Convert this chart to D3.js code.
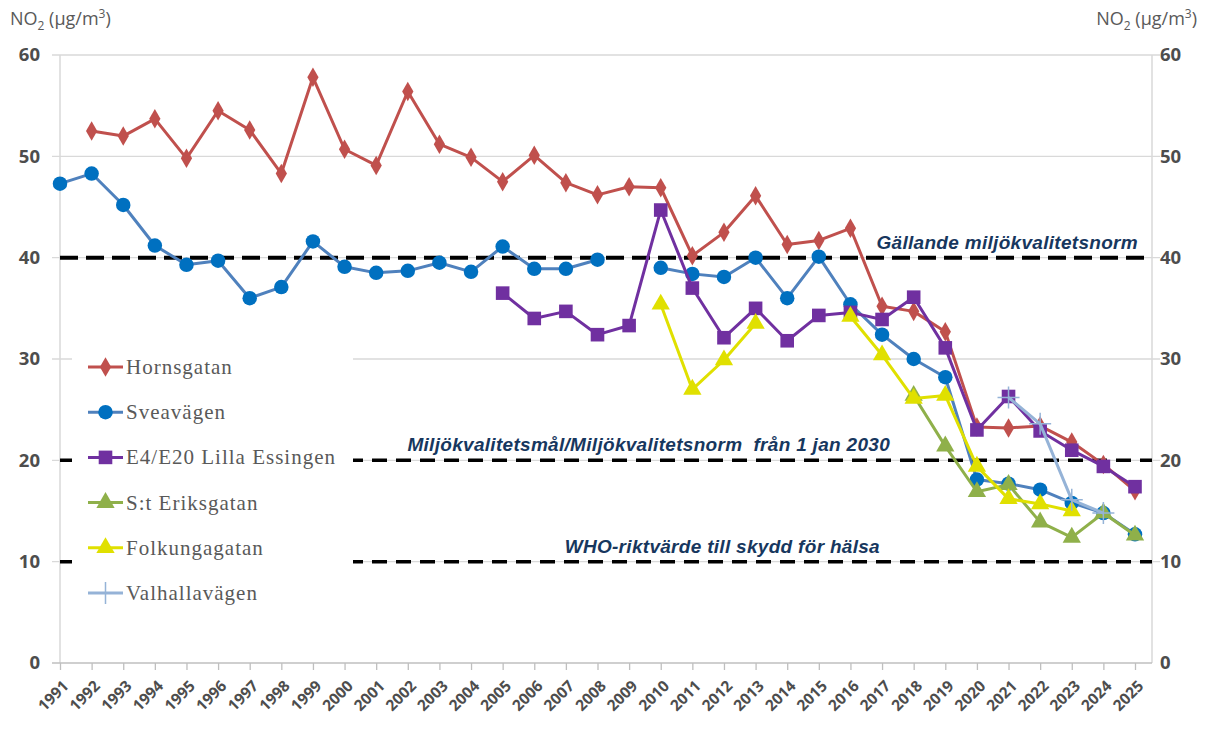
<!DOCTYPE html>
<html>
<head>
<meta charset="utf-8">
<script src="https://cdn.jsdelivr.net/npm/d3@7"></script>
<style>
  body { margin: 0; background: #fff; }
  svg { display: block; }
</style>
</head>
<body>
<svg id="chart" width="1206" height="729"></svg>
<script>
// years on the x axis
var years = d3.range(1991, 2026);

// NO2 annual means (µg/m3), null = no measurement
var hornsgatan = [null, 52.5, 52.0, 53.7, 49.8, 54.5, 52.6, 48.3, 57.8, 50.7, 49.1, 56.4, 51.2, 49.9, 47.5, 50.1, 47.4, 46.2, 47.0, 46.9, 40.2, 42.5, 46.1, 41.3, 41.7, 42.9, 35.2, 34.7, 32.7, 23.3, 23.2, 23.4, 21.8, 19.6, 17.0];
var sveavagen = [47.3, 48.3, 45.2, 41.2, 39.3, 39.7, 36.0, 37.1, 41.6, 39.1, 38.5, 38.7, 39.5, 38.6, 41.1, 38.9, 38.9, 39.8, null, 39.0, 38.4, 38.1, 40.0, 36.0, 40.1, 35.4, 32.4, 30.0, 28.2, 18.1, 17.7, 17.1, 15.8, 14.8, 12.7];
var lillaEssingen = [null, null, null, null, null, null, null, null, null, null, null, null, null, null, 36.5, 34.0, 34.7, 32.4, 33.3, 44.7, 37.0, 32.1, 35.0, 31.8, 34.3, 34.6, 33.9, 36.1, 31.1, 23.0, 26.3, 22.9, 21.0, 19.4, 17.4];
var stEriksgatan = [null, null, null, null, null, null, null, null, null, null, null, null, null, null, null, null, null, null, null, null, null, null, null, null, null, null, null, 26.4, 21.4, 16.9, 17.6, 13.9, 12.4, 14.8, 12.6];
var folkungagatan = [null, null, null, null, null, null, null, null, null, null, null, null, null, null, null, null, null, null, null, 35.4, 27.0, 29.9, 33.5, null, null, 34.2, 30.4, 26.1, 26.4, 19.4, 16.2, 15.7, 15.0, null, null];
var valhallavagen = [null, null, null, null, null, null, null, null, null, null, null, null, null, null, null, null, null, null, null, null, null, null, null, null, null, null, null, null, null, null, 26.2, 23.6, 16.1, 14.8, null];

var seriesNames = ["Hornsgatan", "Sveavägen", "E4/E20 Lilla Essingen", "S:t Eriksgatan", "Folkungagatan", "Valhallavägen"];

// reference levels
var refValues = [40, 20, 10];
var refLabels = ["Gällande miljökvalitetsnorm", "Miljökvalitetsmål/Miljökvalitetsnorm  från 1 jan 2030", "WHO-riktvärde till skydd för hälsa"];

var yTicks = [0, 10, 20, 30, 40, 50, 60];

var svg = d3.select("#chart");
var plotLeft = 60, plotRight = 1152, plotTop = 55, plotBottom = 663;

var x = d3.scaleLinear().domain([1991, 2025]).range([plotLeft, 1135]);
var y = d3.scaleLinear().domain([0, 60]).range([plotBottom, plotTop]);

var axisColor = "#bfbfbf", gridColor = "#d9d9d9", textColor = "#595959";
var tickFont = "'Open Sans', 'Liberation Sans', sans-serif";

// gridlines
svg.append("g")
    .selectAll("line")
    .data(yTicks.filter(function (d) { return d > 0; }))
    .enter()
    .append("line")
    .attr("x1", plotLeft - 8).attr("x2", plotRight + 8)
    .attr("y1", function (d) { return y(d); })
    .attr("y2", function (d) { return y(d); })
    .attr("stroke", gridColor).attr("stroke-width", 1.3);

// left and right axis lines
svg.append("line")
    .attr("x1", plotLeft).attr("x2", plotLeft)
    .attr("y1", plotTop).attr("y2", plotBottom)
    .attr("stroke", gridColor).attr("stroke-width", 1.5);
svg.append("line")
    .attr("x1", plotRight).attr("x2", plotRight)
    .attr("y1", plotTop).attr("y2", plotBottom)
    .attr("stroke", gridColor).attr("stroke-width", 1.5);

// x axis
var xAxis = svg.append("g")
    .attr("transform", "translate(0," + plotBottom + ")")
    .call(d3.axisBottom(x).tickValues(years).tickFormat(d3.format("d")).tickSize(7).tickSizeOuter(0));
xAxis.select(".domain").remove();
xAxis.append("line")
    .attr("x1", plotLeft - 8).attr("x2", plotRight)
    .attr("stroke", axisColor).attr("stroke-width", 1.5);
xAxis.selectAll(".tick line").attr("stroke", axisColor).attr("stroke-width", 1.3);
xAxis.selectAll(".tick text")
    .attr("fill", "#4d4d4d")
    .style("font-family", tickFont)
    .style("font-size", "15.5px")
    .style("font-weight", "bold")
    .attr("text-anchor", "end")
    .attr("y", 0).attr("dy", 0)
    .attr("transform", "translate(9,24) rotate(-45)");

// y tick labels, both sides
var yLeft = svg.append("g")
    .attr("transform", "translate(" + plotLeft + ",0)")
    .call(d3.axisLeft(y).tickValues(yTicks).tickSize(0).tickPadding(20));
var yRight = svg.append("g")
    .attr("transform", "translate(" + plotRight + ",0)")
    .call(d3.axisRight(y).tickValues(yTicks).tickSize(0).tickPadding(8));
[yLeft, yRight].forEach(function (g) {
    g.select(".domain").remove();
    g.selectAll(".tick text")
        .attr("fill", "#4d4d4d")
        .style("font-family", tickFont)
        .style("font-size", "18.5px")
        .style("font-weight", "bold");
});

// axis titles
function unitTitle(xPos, anchor) {
    var t = svg.append("text")
        .attr("x", xPos).attr("y", 25)
        .attr("text-anchor", anchor)
        .attr("fill", textColor)
        .style("font-family", tickFont)
        .style("font-size", "18px");
    t.append("tspan").text("NO");
    t.append("tspan").attr("dy", 5).style("font-size", "12px").text("2");
    t.append("tspan").attr("dy", -5).text(" (µg/m");
    t.append("tspan").attr("dy", -7).style("font-size", "12px").text("3");
    t.append("tspan").attr("dy", 7).text(")");
}
unitTitle(10, "start");
unitTitle(1197, "end");

// reference lines
svg.append("g")
    .selectAll("line")
    .data(refValues)
    .enter()
    .append("line")
    .attr("x1", plotLeft).attr("x2", plotRight)
    .attr("y1", function (d) { return y(d); })
    .attr("y2", function (d) { return y(d); })
    .attr("stroke", "#000")
    .attr("stroke-width", function (d, i) { return i === 0 ? 4 : 3.5; })
    .attr("stroke-dasharray", function (d, i) { return i === 0 ? "18,8" : "15,9"; });

var refLabelEnd = [1138, 890, 880];
svg.append("g")
    .selectAll("text")
    .data(refValues)
    .enter()
    .append("text")
    .attr("x", function (d, i) { return refLabelEnd[i]; })
    .attr("y", function (d) { return y(d) - 9; })
    .attr("text-anchor", "end")
    .attr("fill", "#17375e")
    .style("font-family", "'Liberation Sans', Arial, sans-serif")
    .style("font-size", "19px")
    .style("letter-spacing", "0.3px")
    .style("font-weight", "bold")
    .style("font-style", "italic")
    .style("white-space", "pre")
    .text(function (d, i) { return refLabels[i]; });

// series styles
var seriesValues = [hornsgatan, sveavagen, lillaEssingen, stEriksgatan, folkungagatan, valhallavagen];
var lineColors = ["#c0504d", "#4f81bd", "#7030a0", "#8fb04a", "#e0e000", "#95b3d7"];
var markerColors = ["#c0504d", "#0070c0", "#7030a0", "#8fb04a", "#e0e000", "#95b3d7"];
var markerTypes = [d3.symbolDiamond, d3.symbolCircle, d3.symbolSquare, d3.symbolTriangle, d3.symbolTriangle, d3.symbolPlus || d3.symbolCross];
var markerSizes = [110, 165, 185, 145, 145, 160];

var series = seriesNames.map(function (name, i) {
    return {
        name: name,
        lineColor: lineColors[i],
        markerColor: markerColors[i],
        symbol: d3.symbol().type(markerTypes[i]).size(markerSizes[i]),
        stroke: i === 5,
        points: years.map(function (yr, j) { return { year: yr, value: seriesValues[i][j] }; })
    };
});

var line = d3.line()
    .defined(function (d) { return d.value != null; })
    .x(function (d) { return x(d.year); })
    .y(function (d) { return y(d.value); });

var seriesG = svg.append("g")
    .selectAll("g")
    .data(series)
    .enter()
    .append("g");

seriesG.append("path")
    .attr("d", function (d) { return line(d.points); })
    .attr("fill", "none")
    .attr("stroke", function (d) { return d.lineColor; })
    .attr("stroke-width", 3)
    .attr("stroke-linejoin", "round");

seriesG.each(function (s) {
    d3.select(this).selectAll("path.marker")
        .data(s.points.filter(function (p) { return p.value != null; }))
        .enter()
        .append("path")
        .attr("class", "marker")
        .attr("transform", function (p) { return "translate(" + x(p.year) + "," + y(p.value) + ")"; })
        .attr("d", s.symbol())
        .attr("fill", s.stroke ? "none" : s.markerColor)
        .attr("stroke", s.stroke ? s.markerColor : "none")
        .attr("stroke-width", 1.5);
});

// legend with white background
var legend = svg.append("g");
legend.append("rect")
    .attr("x", 72).attr("y", 342)
    .attr("width", 281).attr("height", 272)
    .attr("fill", "#fff");

var legendItems = legend.selectAll("g.item")
    .data(series)
    .enter()
    .append("g")
    .attr("class", "item")
    .attr("transform", function (d, i) { return "translate(88," + (367 + i * 45.2) + ")"; });

legendItems.append("line")
    .attr("x1", 0).attr("x2", 35)
    .attr("stroke", function (d) { return d.lineColor; })
    .attr("stroke-width", 3);
legendItems.append("path")
    .attr("transform", "translate(17.5,0)")
    .attr("d", function (d) { return d.symbol(); })
    .attr("fill", function (d) { return d.stroke ? "none" : d.markerColor; })
    .attr("stroke", function (d) { return d.stroke ? d.markerColor : "none"; })
    .attr("stroke-width", 1.5);
legendItems.append("text")
    .attr("x", 38).attr("y", 7)
    .attr("fill", textColor)
    .style("font-family", "'Liberation Serif', 'Times New Roman', serif")
    .style("font-size", "21px")
    .style("letter-spacing", "1px")
    .text(function (d) { return d.name; });
</script>
</body>
</html>
